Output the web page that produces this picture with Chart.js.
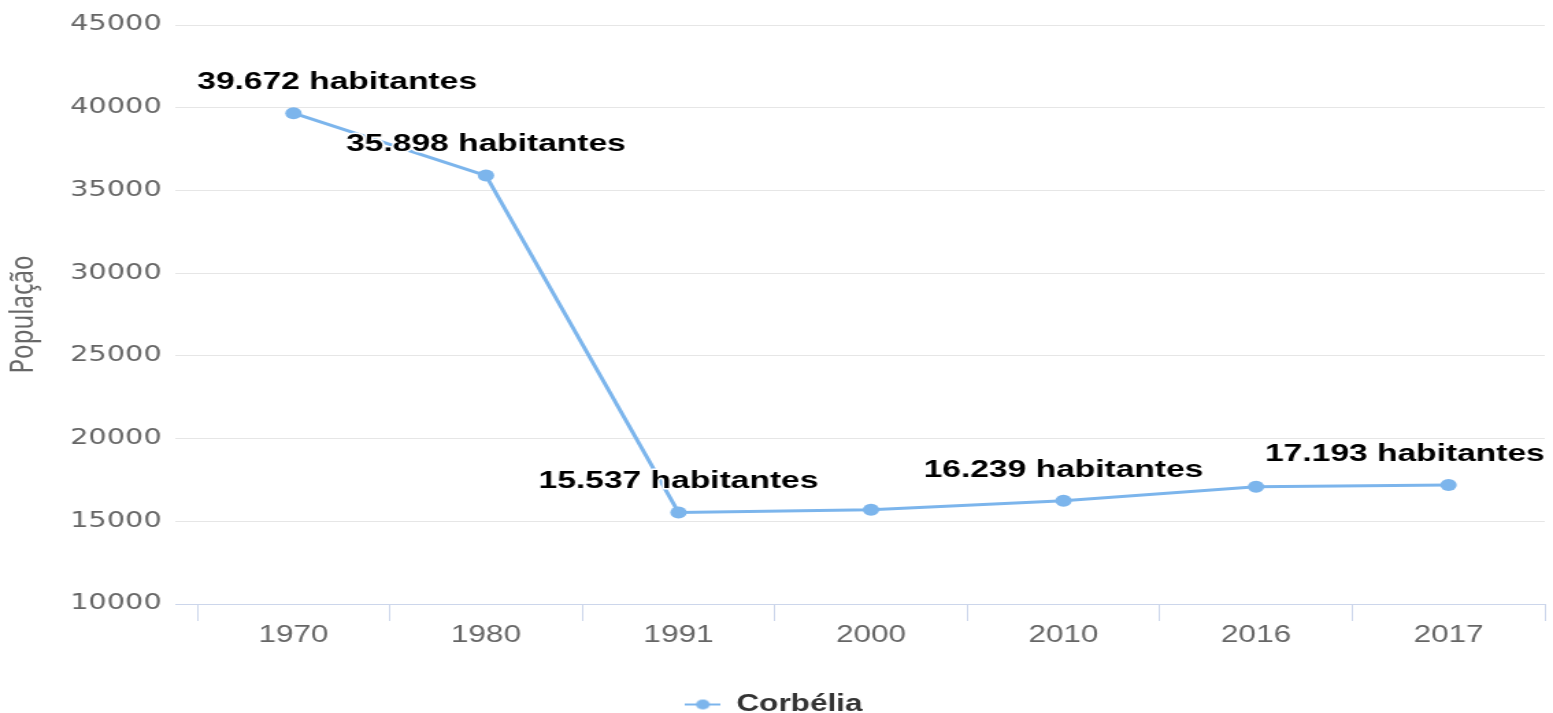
<!DOCTYPE html>
<html>
<head>
<meta charset="utf-8">
<script src="https://cdn.jsdelivr.net/npm/chart.js@4.4.0/dist/chart.umd.min.js"></script>
<style>
  html, body { margin: 0; padding: 0; background: #fff; overflow: hidden; }
  #myChart { display: block; }
</style>
</head>
<body>
<!-- drawn narrow and stretched wide, like the reference -->
<canvas id="myChart" width="1134" height="713" style="width:1553px;height:713px"></canvas>
<script>
  const years = ['1970', '1980', '1991', '2000', '2010', '2016', '2017'];
  const population = [39672, 35898, 15537, 15700, 16239, 17090, 17193];
  const showLabel = [true, true, true, false, true, false, true];
  const seriesName = 'Corbélia';
  const axisTitle = 'População';

  const lineColor = '#7cb5ec';

  function fmt(v) {
    return String(v).replace(/\B(?=(\d{3})+(?!\d))/g, '.');
  }

  // legend marker: short line with a dot
  const marker = document.createElement('canvas');
  marker.width = 26;
  marker.height = 14;
  const m = marker.getContext('2d');
  m.strokeStyle = lineColor;
  m.lineWidth = 2;
  m.beginPath(); m.moveTo(0, 7); m.lineTo(26, 7); m.stroke();
  m.fillStyle = lineColor;
  m.beginPath(); m.arc(13, 7, 5, 0, Math.PI * 2); m.fill();

  const dataLabels = {
    id: 'dataLabels',
    afterDatasetsDraw(chart) {
      const {ctx, chartArea} = chart;
      const meta = chart.getDatasetMeta(0);
      ctx.save();
      ctx.font = 'bold 24.5px "Liberation Sans"';
      ctx.textBaseline = 'middle';
      ctx.textAlign = 'left';
      ctx.lineJoin = 'round';
      meta.data.forEach((pt, i) => {
        if (!showLabel[i]) return;
        const txt = fmt(population[i]) + ' habitantes';
        const w = ctx.measureText(txt).width;
        let x = pt.x - w / 2;
        x = Math.max(chartArea.left, Math.min(x, chartArea.right - w));
        const y = pt.y - 31;
        ctx.lineWidth = 3;
        ctx.strokeStyle = '#fff';
        ctx.strokeText(txt, x, y);
        ctx.fillStyle = '#000';
        ctx.fillText(txt, x, y);
      });
      ctx.restore();
    }
  };

  const ctx = document.getElementById('myChart').getContext('2d');

  const myChart = new Chart(ctx, {
    type: 'line',
    data: {
      labels: years,
      datasets: [{
        label: seriesName,
        data: population,
        borderColor: lineColor,
        backgroundColor: lineColor,
        borderWidth: 3,
        pointRadius: 6,
        pointBackgroundColor: lineColor,
        pointBorderWidth: 0,
        tension: 0,
        fill: false
      }]
    },
    options: {
      responsive: false,
      devicePixelRatio: 1,
      animation: false,
      layout: {
        padding: {top: 25, right: 4, left: 0, bottom: -13}
      },
      plugins: {
        tooltip: {enabled: false},
        legend: {
          position: 'bottom',
          labels: {
            usePointStyle: true,
            pointStyle: marker,
            pointStyleWidth: 26,
            color: '#333',
            font: {family: 'Liberation Sans', size: 23, weight: 'bold'},
            padding: 4
          }
        }
      },
      scales: {
        x: {
          offset: true,
          grid: {
            offset: true,
            drawOnChartArea: false,
            drawTicks: true,
            tickLength: 17,
            color: '#ccd6eb',
            tickColor: '#ccd6eb'
          },
          border: {color: '#ccd6eb', width: 1},
          ticks: {
            color: '#666',
            font: {family: 'Liberation Sans', size: 23},
            padding: 1,
            maxRotation: 0,
            autoSkip: false
          },
          afterFit: s => { s.height = 85; }
        },
        y: {
          min: 10000,
          max: 45000,
          ticks: {
            stepSize: 5000,
            color: '#666',
            font: {family: 'DejaVu Sans', size: 21},
            padding: 10,
            callback: v => String(v)
          },
          grid: {
            color: c => c.tick && c.tick.value === 10000 ? '#ccd6eb' : '#e6e6e6',
            tickColor: c => c.tick && c.tick.value === 10000 ? '#ccd6eb' : '#e6e6e6',
            tickLength: 16
          },
          border: {display: false},
          title: {
            display: true,
            text: axisTitle,
            color: '#666',
            font: {family: 'Noto Sans', size: 24},
            padding: {top: 3, bottom: 0}
          },
          afterFit: s => { s.width = 144; }
        }
      }
    },
    plugins: [dataLabels]
  });
</script>
</body>
</html>
